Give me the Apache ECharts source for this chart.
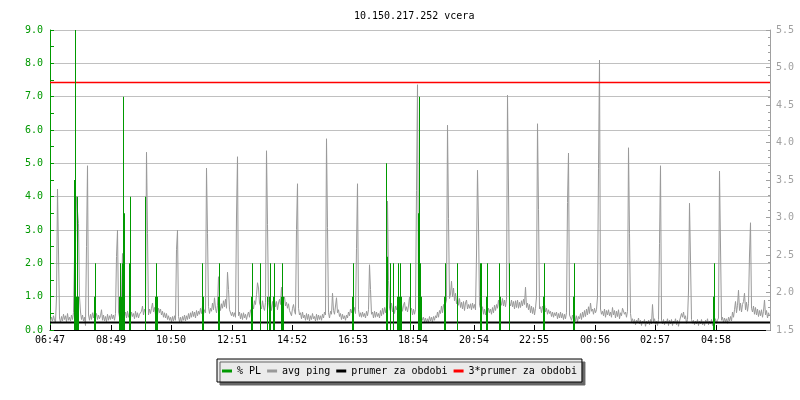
<!DOCTYPE html>
<html><head><meta charset="utf-8">
<script src="https://cdn.jsdelivr.net/npm/echarts@6/dist/echarts.min.js"></script>
<style>html,body{margin:0;padding:0;background:#fff}#c{width:800px;height:400px}</style>
</head><body><div id="c"></div>
<script>
const titleText = '10.150.217.252 vcera';
const sampleMinutes = 2;
const spanMinutes = 1440;
// avg ping [ms], one sample per 2 minutes, starting 06:47
const pingValues = [
1.61,1.67,1.62,1.69,1.63,1.60,1.94,3.38,2.54,1.66,
1.60,1.68,1.62,1.71,1.64,1.69,1.61,1.72,1.63,1.67,
1.62,1.70,1.64,1.73,2.48,2.66,3.28,3.08,2.92,1.94,
1.74,1.64,1.70,1.62,1.67,1.56,2.61,3.69,1.70,1.63,
1.71,1.64,1.73,1.66,1.75,1.67,1.72,1.64,1.70,1.65,
1.69,1.77,1.63,1.70,1.62,1.68,1.61,1.71,1.63,1.69,
1.64,1.71,1.65,1.70,1.63,1.72,2.48,2.83,1.74,1.67,
1.76,1.94,2.52,1.85,1.68,1.74,1.66,1.75,1.67,1.73,
1.66,1.74,1.68,1.72,1.65,1.75,1.67,1.73,1.66,1.71,
1.69,1.75,1.82,1.70,1.78,1.73,3.87,2.79,1.70,1.78,
1.72,1.79,1.86,1.74,1.80,1.71,1.77,1.70,1.79,1.73,
1.78,1.70,1.75,1.67,1.73,1.66,1.72,1.64,1.69,1.63,
1.67,1.61,1.68,1.62,1.69,1.63,2.57,2.83,1.68,1.61,
1.67,1.60,1.68,1.63,1.70,1.62,1.69,1.64,1.72,1.65,
1.73,1.67,1.75,1.68,1.74,1.66,1.76,1.69,1.75,1.71,
1.79,1.72,1.82,1.71,1.77,1.73,3.66,2.79,1.81,1.72,
1.79,1.75,1.86,1.77,1.93,1.79,1.73,1.83,2.21,1.86,
1.76,1.85,1.79,1.89,1.81,1.91,1.79,2.27,2.04,1.77,
1.79,1.69,1.74,1.68,1.73,1.67,3.02,3.81,1.69,1.74,
1.65,1.72,1.64,1.73,1.66,1.71,1.64,1.70,1.74,1.67,
1.77,1.72,1.85,1.78,1.89,1.84,1.97,2.13,2.06,1.86,
1.88,1.78,1.89,1.80,1.76,1.87,3.89,2.91,1.87,1.78,
1.85,1.76,1.88,1.79,1.90,1.81,1.88,1.77,1.86,1.91,
1.84,2.07,1.83,1.91,1.94,1.82,1.87,1.79,1.85,1.76,
1.78,1.69,1.79,1.84,1.75,1.71,2.84,3.45,1.79,1.70,
1.73,1.65,1.74,1.66,1.70,1.63,1.72,1.64,1.71,1.62,
1.69,1.64,1.72,1.65,1.68,1.62,1.71,1.63,1.70,1.64,
1.69,1.63,1.71,1.66,1.74,1.70,4.05,2.87,1.73,1.66,
1.75,1.71,1.99,1.76,1.71,1.82,1.93,1.73,1.77,1.68,
1.72,1.64,1.71,1.65,1.69,1.63,1.70,1.66,1.74,1.69,
1.78,1.73,1.79,1.74,1.80,1.72,2.59,3.45,1.77,1.68,
1.73,1.67,1.74,1.68,1.72,1.66,1.75,1.69,1.77,2.37,
2.04,1.71,1.74,1.66,1.75,1.67,1.74,1.68,1.72,1.66,
1.76,1.69,1.79,1.71,1.80,1.73,1.82,3.22,2.16,1.79,
1.75,1.86,1.74,1.83,1.72,1.82,1.77,1.84,1.72,1.80,
1.77,1.84,1.75,1.83,1.87,1.76,1.81,1.74,1.82,1.94,
1.76,1.79,1.70,1.78,1.71,1.77,3.36,4.77,1.90,1.82,
1.76,1.68,1.63,1.67,1.61,1.66,1.60,1.65,1.61,1.68,
1.62,1.67,1.61,1.68,1.63,1.69,1.66,1.74,1.67,1.76,
1.72,1.82,1.73,1.84,1.76,1.85,1.90,4.23,2.99,1.92,
1.98,2.15,1.94,2.06,1.89,1.99,1.85,1.95,1.83,1.92,
1.80,1.87,1.78,1.88,1.76,1.86,1.90,1.78,1.84,1.79,
1.85,1.77,1.86,1.79,1.84,1.77,2.50,3.63,2.90,1.83,
1.79,1.74,1.81,1.71,1.78,1.70,1.77,1.72,1.79,1.73,
1.78,1.71,1.80,1.73,1.83,1.76,1.84,1.79,1.90,1.80,
1.89,1.83,1.92,1.82,1.90,1.81,1.91,4.63,3.38,1.86,
1.82,1.90,1.81,1.88,1.78,1.89,1.80,1.90,1.79,1.87,
1.80,1.89,1.82,1.91,1.84,2.07,1.80,1.86,1.77,1.84,
1.73,1.82,1.72,1.80,1.70,1.79,1.94,4.25,3.11,1.78,
1.81,1.73,1.82,1.75,1.84,1.74,1.79,1.71,1.77,1.72,
1.75,1.68,1.74,1.67,1.73,1.69,1.74,1.65,1.72,1.66,
1.74,1.66,1.72,1.64,1.71,1.65,1.73,3.20,3.86,1.70,
1.71,1.63,1.70,1.64,1.71,1.62,1.69,1.61,1.68,1.65,
1.72,1.64,1.74,1.67,1.76,1.68,1.78,1.70,1.81,1.72,
1.86,1.75,1.78,1.71,1.79,1.73,1.77,1.94,3.65,5.10,
1.78,1.71,1.75,1.69,1.78,1.67,1.76,1.70,1.77,1.69,
1.74,1.67,1.80,1.70,1.76,1.66,1.75,1.68,1.77,1.65,
1.73,1.69,1.79,1.81,1.71,1.74,1.67,1.75,3.93,2.79,
1.72,1.61,1.65,1.59,1.64,1.57,1.63,1.60,1.66,1.58,
1.63,1.56,1.62,1.59,1.64,1.55,1.62,1.58,1.63,1.57,
1.64,1.58,1.84,1.61,1.65,1.57,1.62,1.56,1.64,2.65,
3.69,1.63,1.58,1.64,1.57,1.62,1.59,1.65,1.56,1.63,
1.58,1.64,1.56,1.62,1.59,1.65,1.57,1.63,1.55,1.62,
1.60,1.72,1.67,1.74,1.65,1.69,1.59,1.64,2.02,3.19,
2.43,1.64,1.59,1.63,1.57,1.62,1.58,1.64,1.56,1.62,
1.58,1.64,1.57,1.61,1.56,1.63,1.59,1.65,1.57,1.62,
1.58,1.64,1.56,1.63,1.58,1.65,1.59,1.63,1.66,3.62,
2.62,1.63,1.67,1.60,1.66,1.61,1.65,1.59,1.67,1.62,
1.68,1.62,1.74,1.67,1.77,1.88,1.73,1.83,2.03,1.76,
1.86,1.74,1.84,1.88,1.99,1.77,1.87,1.75,1.85,2.50,
2.93,1.79,1.74,1.82,1.71,1.80,1.70,1.78,1.68,1.76,
1.69,1.77,1.67,1.75,1.90,1.70,1.76,1.66,1.73,1.69
];
// packet loss [%] : sample index and value (all other samples are 0)
const plIndex = [24,25,26,27,28,44,45,69,70,71,72,73,74,79,80,95,105,106,107,152,153,168,169,201,202,210,217,219,220,223,224,231,232,233,302,303,336,337,340,343,347,348,349,350,351,360,368,369,370,371,394,395,407,430,431,436,437,449,450,459,493,494,523,524,663,664];
const plValues = [4.5,9.0,1.0,4.0,1.0,1.0,2.0,1.0,2.0,1.0,2.0,7.0,3.5,2.0,4.0,4.0,1.0,2.0,1.0,2.0,1.0,1.0,2.0,1.0,2.0,2.0,1.0,1.0,2.0,1.0,2.0,1.0,2.0,1.0,1.0,2.0,5.0,2.2,2.0,2.0,1.0,2.0,1.0,2.0,1.0,2.0,3.5,7.0,2.0,1.0,1.0,2.0,2.0,2.0,2.0,1.0,2.0,2.0,1.0,2.0,1.0,2.0,1.0,2.0,1.0,2.0];
const meanPing = 1.60;
const meanPing3 = 4.80;
const xTickMinutes = [0,122,242,364,484,606,726,848,968,1090,1210,1332];
const xTickLabels = ['06:47','08:49','10:50','12:51','14:52','16:53','18:54','20:54','22:55','00:56','02:57','04:58'];
const seriesNames = ['% PL','avg ping','prumer za obdobi','3*prumer za obdobi'];

const FONT = "'DejaVu Sans Mono', monospace";
const GREEN = '#009900', GRAY = '#999999', AXGRAY = '#a0a0a0';

const chart = echarts.init(document.getElementById('c'), null, {renderer:'canvas'});
chart.setOption({
  animation: false,
  backgroundColor: '#ffffff',
  title: {
    text: titleText, left: 349, top: 6,
    textStyle: {fontFamily: FONT, fontSize: 10, fontWeight: 'normal', color: '#000'}
  },
  legend: {
    data: seriesNames, left: 217, top: 359, icon: 'rect',
    itemWidth: 10, itemHeight: 3, itemGap: 6, selectedMode: false,
    padding: [7,5,6,5],
    backgroundColor: '#ebebeb', borderColor: '#000', borderWidth: 1,
    shadowColor: '#666', shadowBlur: 0, shadowOffsetX: 3, shadowOffsetY: 3,
    textStyle: {fontFamily: FONT, fontSize: 10, color: '#000'}
  },
  grid: {left: 50, right: 30, top: 30, bottom: 70, containLabel: false},
  xAxis: {
    type: 'value', min: 0, max: spanMinutes,
    axisLine: {onZero: false, lineStyle: {color: '#000', width: 1}},
    axisTick: {inside: true, length: 5, customValues: xTickMinutes, lineStyle: {color: '#000'}},
    axisLabel: {
      customValues: xTickMinutes, margin: 5, color: '#000', fontFamily: FONT, fontSize: 10,
      formatter: v => xTickLabels[xTickMinutes.indexOf(v)] || ''
    },
    splitLine: {show: false}
  },
  yAxis: [{
    type: 'value', min: 0, max: 9, interval: 1, position: 'left',
    axisLine: {show: true, lineStyle: {color: GREEN}},
    axisTick: {show: true, inside: true, length: 4, lineStyle: {color: GREEN}},
    minorTick: {show: true, splitNumber: 2, length: 4, lineStyle: {color: GREEN}},
    axisLabel: {color: GREEN, fontFamily: FONT, fontSize: 10, margin: 7, formatter: v => v.toFixed(1)},
    splitLine: {show: true, lineStyle: {color: '#c0c0c0', width: 1}}
  }, {
    type: 'value', min: 1.5, max: 5.5, interval: 0.5, position: 'right',
    axisLine: {show: true, lineStyle: {color: AXGRAY}},
    axisTick: {show: true, inside: true, length: 4, lineStyle: {color: AXGRAY}},
    minorTick: {show: true, splitNumber: 5, length: 2, lineStyle: {color: AXGRAY}},
    axisLabel: {color: AXGRAY, fontFamily: FONT, fontSize: 10, margin: 6, formatter: v => v.toFixed(1)},
    splitLine: {show: false}
  }],
  series: [{
    name: seriesNames[1], type: 'line', yAxisIndex: 1, symbol: 'none', showSymbol: false,
    data: pingValues.map((v, i) => [i * sampleMinutes + 1, v]),
    lineStyle: {color: GRAY, width: 1}, itemStyle: {color: GRAY}, z: 2
  }, {
    name: seriesNames[2], type: 'line', yAxisIndex: 1, symbol: 'none',
    data: [[0, meanPing], [spanMinutes, meanPing]],
    lineStyle: {color: '#000', width: 2}, itemStyle: {color: '#000'}, z: 3
  }, {
    name: seriesNames[3], type: 'line', yAxisIndex: 1, symbol: 'none',
    data: [[0, meanPing3], [spanMinutes, meanPing3]],
    lineStyle: {color: '#ff0000', width: 1.5}, itemStyle: {color: '#ff0000'}, z: 3
  }, {
    name: seriesNames[0], type: 'bar', yAxisIndex: 0, barWidth: 1,
    data: plIndex.map((k, j) => [k * sampleMinutes + 1, plValues[j]]),
    itemStyle: {color: GREEN}, z: 4
  }]
});
</script>
</body></html>
